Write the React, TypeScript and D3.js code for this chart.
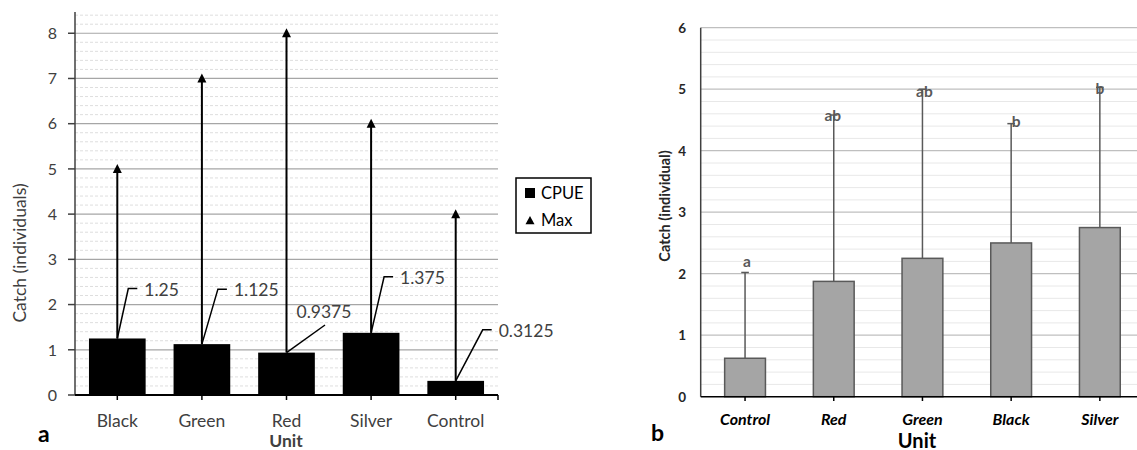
import React from "react";
import * as d3 from "d3";

// panel a: CPUE and max catch per unit
const catsA = ["Black", "Green", "Red", "Silver", "Control"];
const cpueA = [1.25, 1.125, 0.9375, 1.375, 0.3125];
const maxA = [5, 7, 8, 6, 4];
const ticksA = [0, 1, 2, 3, 4, 5, 6, 7, 8];

// panel b: mean catch with upper error and letters
const catsB = ["Control", "Red", "Green", "Black", "Silver"];
const meanB = [0.625, 1.875, 2.25, 2.5, 2.75];
const upperB = [2.02, 4.58, 5.0, 4.44, 5.03];
const lettersB = ["a", "ab", "ab", "b", "b"];
const ticksB = [0, 1, 2, 3, 4, 5, 6];

const FONT = "Lato, 'Open Sans', sans-serif";

export default function App() {
  // ---- panel a scales
  const xA = d3.scaleBand<string>().domain(catsA).range([75, 498]).paddingInner(0.33).paddingOuter(0.165);
  const yA = d3.scaleLinear().domain([0, 8.47]).range([395, 12]);
  const minorA = d3.range(0.2, 8.45, 0.2).filter((v) => Math.abs(v - Math.round(v)) > 0.05);

  // leader line layout for the data labels (offsets from bar top)
  const leader = [
    { ex: 11, ey: -50, h: true },
    { ex: 16, ey: -55, h: true },
    { ex: 38.5, ey: -27.6, h: false, tx: 10, ty: -40.5 },
    { ex: 13, ey: -56, h: true },
    { ex: 27, ey: -51, h: true },
  ];

  // ---- panel b scales
  const xB = d3.scaleBand<string>().domain(catsB).range([700.7, 1144.2]).paddingInner(0.54).paddingOuter(0.27);
  const yB = d3.scaleLinear().domain([0, 6]).range([396.7, 27.7]);
  const minorB = d3.range(0.2, 6, 0.2).filter((v) => Math.abs(v - Math.round(v)) > 0.05);
  const nudge = [
    { dx: 2, dy: -5 },
    { dx: -1, dy: 6 },
    { dx: 2, dy: 8 },
    { dx: 5, dy: 3 },
    { dx: 0, dy: 7 },
  ];

  return (
    <svg
      width={1137}
      height={450}
      viewBox="0 0 1137 450"
      style={{ position: "absolute", left: 0, top: 0, background: "#fff", fontFamily: FONT }}
    >
      {/* ================= panel a ================= */}
      <g>
        {minorA.map((v) => (
          <line key={"ma" + v} x1={75} x2={498} y1={yA(v)} y2={yA(v)} stroke="#dedede" strokeWidth={1} strokeDasharray="3,2" />
        ))}
        {ticksA.slice(1).map((v) => (
          <line key={"ga" + v} x1={75} x2={498} y1={yA(v)} y2={yA(v)} stroke="#a6a6a6" strokeWidth={1.2} />
        ))}
        {/* y axis */}
        <line x1={75} x2={75} y1={12} y2={395} stroke="#404040" strokeWidth={1.5} />
        {ticksA.map((v) => (
          <g key={"ta" + v}>
            <line x1={68} x2={75} y1={yA(v)} y2={yA(v)} stroke="#404040" strokeWidth={1.5} />
            <text x={57} y={yA(v)} dy="0.36em" textAnchor="end" fontSize={16} fill="#404040">
              {v}
            </text>
          </g>
        ))}
        {/* bars */}
        {catsA.map((c, i) => (
          <rect key={"ba" + c} x={xA(c)} y={yA(cpueA[i])} width={xA.bandwidth()} height={yA(0) - yA(cpueA[i])} fill="#000" />
        ))}
        {/* max arrows */}
        {catsA.map((c, i) => {
          const cx = (xA(c) as number) + xA.bandwidth() / 2;
          const ym = yA(maxA[i]);
          return (
            <g key={"mx" + c}>
              <line x1={cx} x2={cx} y1={yA(cpueA[i])} y2={ym} stroke="#000" strokeWidth={2} />
              <path d={`M${cx},${ym - 5} L${cx + 4.5},${ym + 4} L${cx - 4.5},${ym + 4} Z`} fill="#000" />
            </g>
          );
        })}
        {/* data labels with leader lines */}
        {catsA.map((c, i) => {
          const cx = (xA(c) as number) + xA.bandwidth() / 2;
          const yt = yA(cpueA[i]);
          const L = leader[i];
          const ex = cx + L.ex;
          const ey = yt + L.ey;
          const pts = L.h ? `M${cx},${yt} L${ex},${ey} L${ex + 9},${ey}` : `M${cx},${yt} L${ex},${ey}`;
          const tx = L.h ? ex + 16 : cx + (L.tx as number);
          const ty = L.h ? ey + 1 : yt + (L.ty as number);
          return (
            <g key={"lb" + c}>
              <path d={pts} fill="none" stroke="#000" strokeWidth={1.5} />
              <text x={tx} y={ty} dy="0.36em" fontSize={17.5} fill="#404040">
                {String(cpueA[i])}
              </text>
            </g>
          );
        })}
        {/* x axis */}
        <line x1={75} x2={498} y1={395} y2={395} stroke="#000" strokeWidth={2} />
        {catsA.map((c) => {
          const cx = (xA(c) as number) + xA.bandwidth() / 2;
          return (
            <g key={"xa" + c}>
              <line x1={cx} x2={cx} y1={395} y2={400} stroke="#000" strokeWidth={1.5} />
              <text x={cx} y={427} textAnchor="middle" fontSize={17.5} fill="#404040">
                {c}
              </text>
            </g>
          );
        })}
        <line x1={498} x2={498} y1={395} y2={400} stroke="#000" strokeWidth={1.5} />
        <text x={286} y={447} textAnchor="middle" fontSize={17.5} fontWeight="bold" fill="#404040">
          Unit
        </text>
        <text transform="translate(26,253) rotate(-90)" textAnchor="middle" fontSize={17.5} fill="#404040">
          Catch (individuals)
        </text>
        <text x={38} y={442} fontSize={23} fontWeight="bold" fill="#000">
          a
        </text>
        {/* legend */}
        <rect x={516} y={178} width={75} height={55} fill="#fff" stroke="#000" strokeWidth={1.5} />
        <rect x={525} y={188} width={10} height={10} fill="#000" />
        <text x={541} y={193} dy="0.36em" fontSize={16.5} fill="#000">
          CPUE
        </text>
        <path d="M530,216 L534.5,224.3 L525.5,224.3 Z" fill="#000" />
        <text x={541} y={220} dy="0.36em" fontSize={16.5} fill="#000">
          Max
        </text>
      </g>

      {/* ================= panel b ================= */}
      <g>
        {minorB.map((v) => (
          <line key={"mb" + v} x1={700.7} x2={1137} y1={yB(v)} y2={yB(v)} stroke="#e8e8e8" strokeWidth={1} />
        ))}
        {ticksB.slice(1).map((v) => (
          <line key={"gb" + v} x1={700.7} x2={1137} y1={yB(v)} y2={yB(v)} stroke="#bfbfbf" strokeWidth={1.3} />
        ))}
        <line x1={700.7} x2={700.7} y1={27.7} y2={396.7} stroke="#404040" strokeWidth={1.5} />
        {ticksB.map((v) => (
          <text key={"tb" + v} x={686} y={yB(v)} dy="0.36em" textAnchor="end" fontSize={13.5} fontWeight="bold" fill="#262626">
            {v}
          </text>
        ))}
        {/* error bars */}
        {catsB.map((c, i) => {
          const cx = (xB(c) as number) + xB.bandwidth() / 2;
          const yu = yB(upperB[i]);
          return (
            <g key={"eb" + c}>
              <line x1={cx} x2={cx} y1={yB(meanB[i])} y2={yu} stroke="#595959" strokeWidth={1.5} />
              <line x1={cx - 3.8} x2={cx + 3.8} y1={yu} y2={yu} stroke="#595959" strokeWidth={1.5} />
            </g>
          );
        })}
        {catsB.map((c, i) => (
          <rect
            key={"bb" + c}
            x={xB(c)}
            y={yB(meanB[i])}
            width={xB.bandwidth()}
            height={yB(0) - yB(meanB[i])}
            fill="#a5a5a5"
            stroke="#595959"
            strokeWidth={1.5}
          />
        ))}
        {catsB.map((c, i) => {
          const cx = (xB(c) as number) + xB.bandwidth() / 2;
          return (
            <text
              key={"lt" + c}
              x={cx + nudge[i].dx}
              y={yB(upperB[i]) + nudge[i].dy}
              textAnchor="middle"
              fontSize={15.5}
              fontWeight="bold"
              fill="#595959"
            >
              {lettersB[i]}
            </text>
          );
        })}
        <line x1={700.7} x2={1137} y1={396.7} y2={396.7} stroke="#000" strokeWidth={1.5} />
        {catsB.map((c) => {
          const cx = (xB(c) as number) + xB.bandwidth() / 2;
          return (
            <g key={"xb" + c}>
              <line x1={cx} x2={cx} y1={396.7} y2={401} stroke="#000" strokeWidth={1.5} />
              <text x={cx} y={425} textAnchor="middle" fontSize={16} fontWeight="bold" fontStyle="italic" fill="#000">
                {c}
              </text>
            </g>
          );
        })}
        <text x={917} y={447.5} textAnchor="middle" fontSize={20} fontWeight="bold" fill="#000">
          Unit
        </text>
        <text transform="translate(670,206) rotate(-90)" textAnchor="middle" fontSize={14.5} fontWeight="bold" fill="#262626">
          Catch (individual)
        </text>
        <text x={651} y={441} fontSize={23} fontWeight="bold" fill="#000">
          b
        </text>
      </g>
    </svg>
  );
}
